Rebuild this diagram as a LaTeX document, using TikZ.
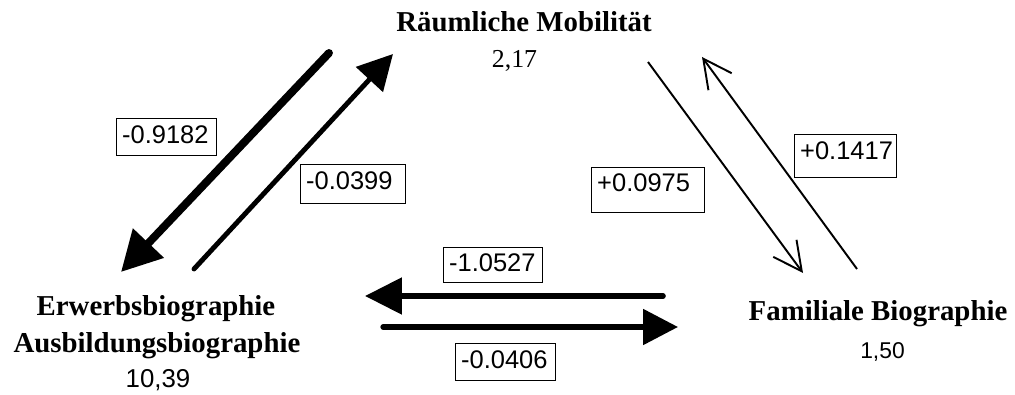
\documentclass[tikz,border=0pt]{standalone}
\usepackage{fontspec}
\setmainfont{Liberation Serif}
\setsansfont{Liberation Sans}
\usetikzlibrary{arrows.meta}

\begin{document}
\begin{tikzpicture}[
    bereich/.style={font=\fontsize{16.4}{19}\selectfont\bfseries, inner sep=0pt, anchor=base},
    zahl/.style={font=\sffamily\fontsize{13}{15}\selectfont, inner sep=0pt, anchor=base},
    wert/.style={draw, line width=0.6pt, font=\sffamily\fontsize{14.5}{17}\selectfont,
        align=left, text width=50.5pt, inner sep=3.4pt, text height=10.5pt, text depth=3.5pt},
    voll/.style={line cap=round, -{Triangle[length=20pt, width=20.4pt]}},
    duenn/.style={line width=1.1pt, -{Straight Barb[length=16.2pt, width=16.4pt]}}
  ]
    \useasboundingbox (0,0) rectangle (20.3,7.88);

    % areas
    \node [bereich] (mob)    at (10.48,7.24) {Räumliche Mobilität};
    \node [bereich, font=\fontsize{14.7}{17}\selectfont] (mobwert) at (10.29,6.52) {2,17};
    \node [bereich] (erwerb) at (3.12,1.58) {Erwerbsbiographie};
    \node [bereich] (ausb)   at (3.14,0.84) {Ausbildungsbiographie};
    \node [zahl, font=\sffamily\fontsize{14.7}{17}\selectfont] (erwerbwert) at (3.16,0.14) {10,39};
    \node [bereich] (familie) at (17.56,1.48) {Familiale Biographie};
    \node [zahl] (familiewert) at (17.65,0.72) {1,50};

    % arrow ends
    \coordinate (me1) at (6.58,6.82);
    \coordinate (me2) at (2.42,2.44);
    \coordinate (em1) at (3.88,2.50);
    \coordinate (em2) at (7.86,6.80);
    \coordinate (mf1) at (12.96,6.64);
    \coordinate (mf2) at (16.06,2.42);
    \coordinate (fm1) at (17.14,2.50);
    \coordinate (fm2) at (14.04,6.74);
    \coordinate (fe1) at (13.26,1.96);
    \coordinate (fe2) at (7.30,1.96);
    \coordinate (ef1) at (7.66,1.34);
    \coordinate (ef2) at (13.56,1.34);

    % arrows
    \draw [voll, line width=4.5pt, -{Triangle[length=22.7pt, width=23.2pt]}] (me1) -- (me2);
    \draw [voll, line width=2.8pt, -{Triangle[length=19.8pt, width=20.4pt]}] (em1) -- (em2);
    \draw [duenn] (mf1) -- (mf2);
    \draw [duenn] (fm1) -- (fm2);
    \draw [voll, line width=3.2pt, -{Triangle[length=21pt, width=20.4pt]}] (fe1) -- (fe2);
    \draw [voll, line width=3pt, -{Triangle[length=19.8pt, width=19.8pt]}] (ef1) -- (ef2);

    % coefficients
    \node [wert] (w1) at (3.33,5.14) {-0.9182};
    \node [wert, text width=53.3pt, text depth=4.7pt] (w2) at (7.06,4.20) {-0.0399};
    \node [wert, text width=57.8pt, text depth=8.6pt] (w3) at (12.96,4.08) {+0.0975};
    \node [wert, text width=51.6pt, text depth=7pt] (w4) at (16.91,4.76) {+0.1417};
    \node [wert, text width=49.9pt, text depth=3pt] (w5) at (9.86,2.58) {-1.0527};
    \node [wert] (w6) at (10.11,0.64) {-0.0406};
\end{tikzpicture}
\end{document}
